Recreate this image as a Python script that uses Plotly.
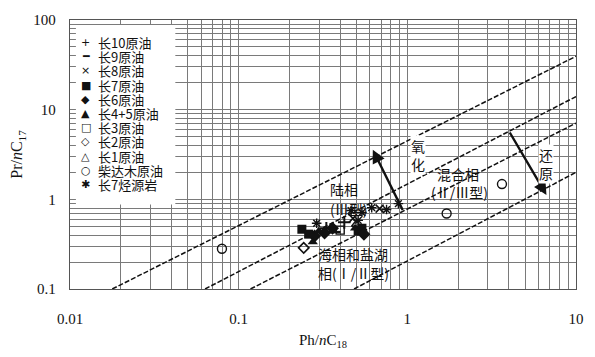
import math
import plotly.graph_objects as go

# ---------------- data ----------------
series_names = ["长10原油", "长9原油", "长8原油", "长7原油", "长6原油", "长4+5原油",
                "长3原油", "长2原油", "长1原油", "柴达木原油", "长7烃源岩"]
legend_glyphs = ["+", "━", "×", "■", "◆", "▲", "□", "◇", "△", "○", "✱"]

c10_x = [0.331, 0.423]
c10_y = [0.476, 0.554]
c9_x = [0.369]
c9_y = [0.431]
c8_x = [0.476, 0.685]
c8_y = [0.613, 0.789]
c7_x = [0.237, 0.260, 0.511, 0.538]
c7_y = [0.464, 0.409, 0.442, 0.476]
c6_x = [0.282, 0.323, 0.360, 0.553]
c6_y = [0.389, 0.420, 0.476, 0.409]
c45_x = [0.275, 0.298, 0.490]
c45_y = [0.335, 0.442, 0.476]
c3_x = [0.400]
c3_y = [0.453]
c2_x = [0.243]
c2_y = [0.288]
c1_x = [0.497]
c1_y = [0.527]
qdm_x = [0.0796, 1.71, 3.64]
qdm_y = [0.281, 0.695, 1.48]
src_x = [0.290, 0.464, 0.538, 0.615, 0.511, 0.753, 0.885]
src_y = [0.541, 0.750, 0.713, 0.809, 0.583, 0.769, 0.895]

# boundary (dashed) lines: endpoints
boundary_x = [[0.0178, 10], [0.0632, 10], [0.1175, 10], [0.483, 10]]
boundary_y = [[0.1, 39.4], [0.1, 14.0], [0.1, 7.08], [0.1, 2.0]]

x_ticks = [0.01, 0.1, 1, 10]
y_ticks = [0.1, 1, 10, 100]

# ---------------- figure ----------------
fig = go.Figure()

for bx, by in zip(boundary_x, boundary_y):
    fig.add_trace(go.Scatter(x=bx, y=by, mode="lines", showlegend=False,
                             line=dict(color="#111111", width=1.5, dash="5px,2px"),
                             hoverinfo="skip"))

series = [
    (c10_x, c10_y, "cross-thin-open", 9, 2.0),
    (c9_x, c9_y, "line-ew-open", 9, 2.5),
    (c8_x, c8_y, "x-thin-open", 8, 1.6),
    (c7_x, c7_y, "square", 9, 0),
    (c6_x, c6_y, "diamond", 10, 0),
    (c45_x, c45_y, "triangle-up", 9, 0),
    (c3_x, c3_y, "square-open", 8, 1.4),
    (c2_x, c2_y, "diamond-open", 8, 1.6),
    (c1_x, c1_y, "triangle-up-open", 8, 1.4),
    (qdm_x, qdm_y, "circle-open", 9, 1.4),
    (src_x, src_y, "asterisk-open", 8, 1.4),
]
for name, (sx, sy, sym, size, lw) in zip(series_names, series):
    fig.add_trace(go.Scatter(
        x=sx, y=sy, mode="markers", name=name, showlegend=False,
        marker=dict(symbol=sym, size=size, color="#111111",
                    line=dict(color="#111111", width=lw))))

grid_col = "#7a7a7a"
axis_font = dict(family="Liberation Serif, Times New Roman, serif", size=15, color="#111111")

fig.update_xaxes(
    type="log", range=[-2, 1], tickvals=x_ticks, ticktext=["0.01", "0.1", "1", "10"],
    showgrid=True, gridcolor=grid_col, gridwidth=1.1,
    minor=dict(dtick="D1", showgrid=True, gridcolor=grid_col, gridwidth=1.1),
    showline=True, linecolor="#555555", linewidth=1.3, mirror=True,
    ticks="", tickfont=axis_font, ticklabelstandoff=16, zeroline=False,
    title=dict(text="Ph/<i>n</i>C<sub>18</sub>", font=dict(family="Liberation Serif, serif", size=15, color="#111111"), standoff=8),
)
fig.update_yaxes(
    type="log", range=[-1, 2], tickvals=y_ticks, ticktext=["0.1", "1", "10", "100"],
    showgrid=True, gridcolor=grid_col, gridwidth=1.1,
    minor=dict(dtick="D1", showgrid=True, gridcolor=grid_col, gridwidth=1.1),
    showline=True, linecolor="#555555", linewidth=1.3, mirror=True,
    ticks="", tickfont=axis_font, ticklabelstandoff=10, zeroline=False,
    title=dict(text="Pr/<i>n</i>C<sub>17</sub>", font=dict(family="Liberation Serif, serif", size=16, color="#111111"), standoff=6),
)

# legend: white box + text entries
W, H, L, T = 514, 274, 70, 20
def px(xp):
    return (xp - L) / W
def py(yp):
    return 1 - (yp - T) / H

shapes = [dict(type="rect", xref="paper", yref="paper", x0=px(76), x1=px(177),
               y0=py(208), y1=py(25), fillcolor="white", line=dict(width=0), layer="above")]

annotations = []
cjk = "Noto Sans CJK SC, sans-serif"
for i, (name, g) in enumerate(zip(series_names, legend_glyphs)):
    yy = py(43 + i * 14.45)
    annotations.append(dict(xref="paper", yref="paper", x=px(86), y=yy, text=g,
                            showarrow=False, xanchor="center", yanchor="middle",
                            font=dict(family="DejaVu Sans", size=11, color="#111111")))
    annotations.append(dict(xref="paper", yref="paper", x=px(96), y=yy, text=name,
                            showarrow=False, xanchor="left", yanchor="middle",
                            font=dict(family=cjk, size=13, color="#111111")))

# arrows
arrows = [((0.948, 0.731), (0.624, 3.58)), ((4.0, 5.78), (6.68, 1.12))]
for (tx, ty), (hx, hy) in arrows:
    annotations.append(dict(x=math.log10(hx), y=math.log10(hy), ax=math.log10(tx), ay=math.log10(ty),
                            xref="x", yref="y", axref="x", ayref="y", text="",
                            showarrow=True, arrowhead=2, arrowsize=1.1, arrowwidth=2.4,
                            arrowcolor="#111111"))

labels = [
    ("氧<br>化", 0.064, 0.499, True),
    ("还<br>原", 0.825, 0.390, True),
    ("混合相", 0.298, 0.280, False),
    ("(Ⅱ/Ⅲ型)", 0.310, 0.083, False),
    ("陆相", -0.374, 0.116, False),
    ("(Ⅲ型)", -0.351, -0.103, False),
    ("海相和盐湖", -0.322, -0.607, False),
    ("相(Ⅰ/Ⅱ型)", -0.322, -0.826, False),
]
for txt, lx, ly, bg in labels:
    annotations.append(dict(x=lx, y=ly, xref="x", yref="y", text=txt, showarrow=False,
                            font=dict(family=cjk, size=14, color="#111111"),
                            bgcolor="white" if bg else None, borderpad=0))

fig.update_layout(
    width=595, height=357,
    margin=dict(l=L, r=595 - L - W, t=T, b=357 - T - H),
    paper_bgcolor="white", plot_bgcolor="white",
    showlegend=False, shapes=shapes, annotations=annotations,
)

fig.write_html("out.html")
